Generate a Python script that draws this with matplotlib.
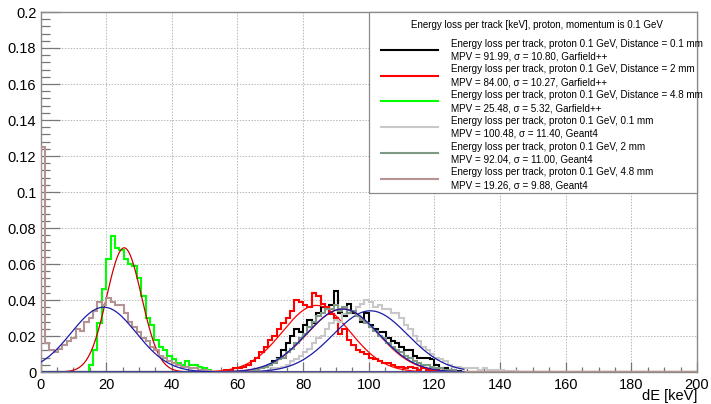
import numpy as np
import matplotlib
matplotlib.use("Agg")
import matplotlib.pyplot as plt
from matplotlib.ticker import MultipleLocator
from matplotlib.lines import Line2D
from matplotlib.patches import Rectangle

plt.rcParams['font.family'] = ['Liberation Sans', 'DejaVu Sans']

# ---------------- data ----------------
n_bins = 150
x_min, x_max = 0.0, 200.0

# each histogram: first bin index, bin contents (bin width = 200/150 keV)
black_start = 49
black_vals = [0.001, 0.002, 0.003, 0.004, 0.006, 0.008, 0.012, 0.016, 0.020, 0.024,
              0.022, 0.026, 0.029, 0.027, 0.033, 0.036, 0.035, 0.037, 0.045, 0.033,
              0.031, 0.038, 0.033, 0.031, 0.028, 0.033, 0.026, 0.024, 0.022, 0.022,
              0.019, 0.017, 0.016, 0.014, 0.012, 0.012, 0.009, 0.008, 0.008, 0.008,
              0.007, 0.004, 0.002, 0.002, 0.001, 0.001, 0.0005]

red_start = 42
red_vals = [0.001, 0.001, 0.002, 0.002, 0.003, 0.004, 0.006, 0.008, 0.011, 0.014,
            0.018, 0.020, 0.024, 0.027, 0.030, 0.034, 0.040, 0.039, 0.037, 0.036,
            0.044, 0.042, 0.038, 0.036, 0.032, 0.030, 0.021, 0.024, 0.018, 0.015,
            0.012, 0.011, 0.010, 0.008, 0.007, 0.006, 0.005, 0.005, 0.004, 0.003,
            0.003, 0.002, 0.003, 0.002, 0.001, 0.002, 0.001, 0.001, 0.001, 0.0005]

green_start = 10
green_vals = [0.0, 0.004, 0.012, 0.027, 0.046, 0.063, 0.0755, 0.069, 0.068, 0.063,
              0.060, 0.059, 0.052, 0.042, 0.030, 0.026, 0.018, 0.014, 0.012, 0.009,
              0.007, 0.005, 0.004, 0.006, 0.004, 0.004, 0.003, 0.002, 0.001]

gray_start = 52
gray_vals = [0.001, 0.002, 0.002, 0.003, 0.004, 0.006, 0.007, 0.009, 0.011, 0.013,
             0.016, 0.019, 0.020, 0.024, 0.027, 0.029, 0.028, 0.032, 0.033, 0.034,
             0.036, 0.038, 0.040, 0.039, 0.036, 0.037, 0.035, 0.035, 0.033, 0.033,
             0.030, 0.026, 0.024, 0.020, 0.017, 0.014, 0.012, 0.010, 0.008, 0.007,
             0.006, 0.004, 0.003, 0.003, 0.002, 0.002, 0.002, 0.002, 0.001, 0.002,
             0.001, 0.001, 0.001, 0.001, 0.0005, 0.0005, 0.0005]

ggreen_start = 48
ggreen_vals = [0.001, 0.001, 0.002, 0.003, 0.004, 0.005, 0.007, 0.008, 0.011, 0.013,
               0.016, 0.019, 0.021, 0.025, 0.028, 0.031, 0.033, 0.035, 0.035, 0.037,
               0.034, 0.036, 0.033, 0.034, 0.031, 0.029, 0.027, 0.025, 0.023, 0.020,
               0.019, 0.016, 0.014, 0.012, 0.011, 0.009, 0.008, 0.006, 0.005, 0.004,
               0.004, 0.003, 0.002, 0.002, 0.001, 0.001, 0.001]

brown_start = 0
brown_vals = [0.125, 0.016, 0.012, 0.011, 0.013, 0.015, 0.017, 0.019, 0.024, 0.023,
              0.028, 0.030, 0.034, 0.039, 0.037, 0.041, 0.039, 0.037, 0.037, 0.033,
              0.028, 0.025, 0.022, 0.019, 0.017, 0.014, 0.012, 0.009, 0.008, 0.006,
              0.005, 0.004, 0.003, 0.003, 0.002, 0.002, 0.001, 0.001, 0.0005]

# Gaussian fit parameters: mean (MPV), sigma, amplitude
fit_mean = [91.99, 84.00, 25.48, 100.48, 92.04, 19.26]
fit_sigma = [10.80, 10.27, 5.32, 11.40, 11.00, 9.88]
fit_amp = [0.035, 0.037, 0.069, 0.034, 0.035, 0.036]

labels = [
    "Energy loss per track, proton 0.1 GeV, Distance = 0.1 mm\nMPV = 91.99, \u03c3 = 10.80, Garfield++",
    "Energy loss per track, proton 0.1 GeV, Distance = 2 mm\nMPV = 84.00, \u03c3 = 10.27, Garfield++",
    "Energy loss per track, proton 0.1 GeV, Distance = 4.8 mm\nMPV = 25.48, \u03c3 = 5.32, Garfield++",
    "Energy loss per track, proton 0.1 GeV, 0.1 mm\nMPV = 100.48, \u03c3 = 11.40, Geant4",
    "Energy loss per track, proton 0.1 GeV, 2 mm\nMPV = 92.04, \u03c3 = 11.00, Geant4",
    "Energy loss per track, proton 0.1 GeV, 4.8 mm\nMPV = 19.26, \u03c3 = 9.88, Geant4",
]
legend_title = "Energy loss per track [keV], proton, momentum is 0.1 GeV"

hist_colors = ["#000000", "#ff0000", "#00ff00", "#c8c8c8", "#7f9a84", "#b69393"]
fit_colors = ["#ff0000", "#ff0000", "#cc0000", "#1c1ca8", "#1c1ca8", "#1c1ca8"]

starts = [black_start, red_start, green_start, gray_start, ggreen_start, brown_start]
series = [black_vals, red_vals, green_vals, gray_vals, ggreen_vals, brown_vals]

# ---------------- figure ----------------
W, H = 711, 404
fig = plt.figure(figsize=(W / 100, H / 100), dpi=100)
ax = fig.add_axes([40.5 / W, 1 - 372 / H, (697 - 40.5) / W, (372 - 12) / H])

edges = np.linspace(x_min, x_max, n_bins + 1)
xf = np.linspace(0, 129, 800)
for i in range(6):
    full = np.zeros(n_bins)
    full[starts[i]:starts[i] + len(series[i])] = series[i]
    ax.stairs(full, edges, color=hist_colors[i], lw=1.5, baseline=0, zorder=3 + 2 * i)
    yf = fit_amp[i] * np.exp(-0.5 * ((xf - fit_mean[i]) / fit_sigma[i]) ** 2)
    ax.plot(xf, yf, color=fit_colors[i], lw=0.9, zorder=4 + 2 * i)

ax.set_xlim(0, 200)
ax.set_ylim(0, 0.2)
ax.xaxis.set_major_locator(MultipleLocator(20))
ax.xaxis.set_minor_locator(MultipleLocator(5))
ax.yaxis.set_major_locator(MultipleLocator(0.02))
ax.yaxis.set_minor_locator(MultipleLocator(0.004))
ax.set_yticks(ax.get_yticks())
ax.set_yticklabels(["0" if abs(v) < 1e-9 else ("%g" % v) for v in ax.get_yticks()])
ax.set_ylim(0, 0.2)

ax.tick_params(axis='y', which='major', direction='in', length=13.5, width=0.9,
               color='#777777', labelsize=10.5, pad=3)
ax.tick_params(axis='y', which='minor', direction='in', length=6.8, width=0.9, color='#777777')
ax.tick_params(axis='x', which='major', direction='in', length=7.5, width=0.9,
               color='#777777', labelsize=10.5, pad=4)
ax.tick_params(axis='x', which='minor', direction='in', length=3.8, width=0.9, color='#777777')
for s in ax.spines.values():
    s.set_color('#8a8a8a')
    s.set_linewidth(1.0)
ax.grid(True, which='major', color='#b8b8b8', linestyle=(0, (1.5, 1.5)), lw=0.7, zorder=0)
ax.set_axisbelow(True)

ax.set_xlabel("dE [keV]", fontsize=10.5, ha='right', va='center')
ax.xaxis.set_label_coords(1.0, -(396 - 372) / 360)

# legend box (pixel layout)
def px(x, y):
    return (x / W, 1 - y / H)

lx0, ly0, lx1, ly1 = 369, 12, 697, 192.5
rect = Rectangle(px(lx0, ly1), (lx1 - lx0) / W, (ly1 - ly0) / H, transform=fig.transFigure,
                 facecolor='white', edgecolor='#8a8a8a', lw=0.9, zorder=50)
fig.add_artist(rect)
fig.text(*px(536.5, 24.5), legend_title, ha='center', va='center', fontsize=7.0, zorder=51)
for i in range(6):
    yc = 50 + i * 25.7
    l1, l2 = labels[i].split("\n")
    fig.add_artist(Line2D([381 / W, 438 / W], [1 - yc / H, 1 - yc / H], transform=fig.transFigure,
                          color=hist_colors[i], lw=1.5, zorder=51))
    fig.text(*px(451, yc - 6.2), l1, ha='left', va='center', fontsize=7.1, zorder=51)
    fig.text(*px(451, yc + 6.8), l2, ha='left', va='center', fontsize=7.1, zorder=51)

fig.savefig("out.png", dpi=100)
